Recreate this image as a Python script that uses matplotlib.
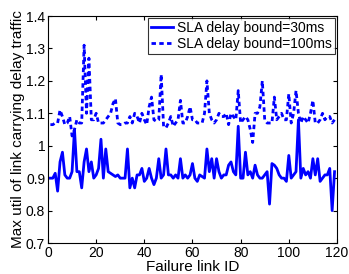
import matplotlib
matplotlib.use("Agg")
import matplotlib.pyplot as plt
import numpy as np

plt.rcParams['font.family'] = ['Liberation Sans', 'DejaVu Sans']

link_ids = list(range(1, 120))
util_30ms = [0.90, 0.90, 0.915, 0.86, 0.95, 0.98, 0.91, 0.90, 0.90, 0.92,
             1.05, 0.92, 0.92, 0.87, 0.95, 0.99, 0.92, 0.95, 0.90, 0.91,
             0.93, 1.02, 0.90, 0.99, 0.92, 0.915, 0.91, 0.905, 0.91, 0.90,
             0.90, 0.90, 0.99, 0.87, 0.90, 0.87, 0.91, 0.91, 0.93, 0.89,
             0.90, 0.93, 0.90, 0.88, 0.90, 0.96, 0.90, 0.91, 0.99, 0.91,
             0.91, 0.90, 0.91, 0.90, 0.96, 0.90, 0.91, 0.90, 0.91, 0.945,
             0.90, 0.89, 0.91, 0.905, 0.90, 0.99, 0.92, 0.96, 0.90, 0.96,
             0.92, 0.90, 0.91, 0.91, 0.94, 0.95, 0.92, 0.91, 1.06, 0.90,
             0.90, 0.98, 0.91, 0.92, 0.90, 0.94, 0.91, 0.90, 0.90, 0.91,
             0.92, 0.82, 0.945, 0.94, 0.93, 0.91, 0.90, 0.90, 0.89, 0.97,
             0.90, 0.91, 0.92, 1.08, 0.90, 0.93, 0.91, 0.92, 0.90, 0.96,
             0.91, 0.96, 0.89, 0.90, 0.91, 0.91, 0.93, 0.80, 0.92]
util_100ms = [1.065, 1.065, 1.07, 1.07, 1.11, 1.09, 1.065, 1.07, 1.09, 1.03,
              1.05, 1.08, 1.07, 1.07, 1.31, 1.10, 1.27, 1.08, 1.08, 1.10,
              1.07, 1.07, 1.07, 1.08, 1.09, 1.10, 1.13, 1.145, 1.07, 1.065,
              1.065, 1.07, 1.07, 1.09, 1.07, 1.10, 1.09, 1.07, 1.10, 1.08,
              1.065, 1.12, 1.15, 1.08, 1.075, 1.08, 1.22, 1.06, 1.055, 1.07,
              1.09, 1.06, 1.07, 1.08, 1.14, 1.07, 1.07, 1.09, 1.12, 1.08,
              1.08, 1.07, 1.07, 1.07, 1.10, 1.20, 1.10, 1.08, 1.07, 1.08,
              1.10, 1.09, 1.09, 1.10, 1.065, 1.10, 1.09, 1.08, 1.17, 1.07,
              1.08, 1.09, 1.08, 1.05, 1.01, 1.10, 1.10, 1.12, 1.20, 1.08,
              1.07, 1.07, 1.07, 1.15, 1.08, 1.09, 1.10, 1.08, 1.08, 1.16,
              1.07, 1.10, 1.17, 1.10, 1.07, 1.09, 1.08, 1.07, 1.10, 1.14,
              1.07, 1.07, 1.08, 1.10, 1.08, 1.09, 1.09, 1.07, 1.08]
labels = ['SLA delay bound=30ms', 'SLA delay bound=100ms']
xticks = [0, 20, 40, 60, 80, 100, 120]
yticks = [0.7, 0.8, 0.9, 1.0, 1.1, 1.2, 1.3, 1.4]
yticklabels = ['0.7', '0.8', '0.9', '1', '1.1', '1.2', '1.3', '1.4']

fig = plt.figure(figsize=(3.49, 2.74), dpi=100)
ax = fig.add_axes([0.1375, 0.1131, 0.828, 0.8285])
ax.plot(link_ids, util_30ms, color='#0000ff', lw=2.0, label=labels[0])
ax.plot(link_ids, util_100ms, color='#0000ff', lw=2.0, linestyle=(0, (1.6, 1.2)), label=labels[1])
ax.set_xlim(0, 120)
ax.set_ylim(0.7, 1.4)
ax.set_xticks(xticks)
ax.set_yticks(yticks)
ax.set_yticklabels(yticklabels)
ax.tick_params(direction='in', length=3, labelsize=10, top=True, right=True, pad=2)
ax.set_xlabel('Failure link ID', fontsize=11, labelpad=0)
ax.set_ylabel('Max util of link carrying delay traffic', fontsize=11, labelpad=1)
for s in ax.spines.values():
    s.set_linewidth(0.8)
leg = ax.legend(loc='upper right', fontsize=10, frameon=True, fancybox=False,
                edgecolor='black', handlelength=1.6, handletextpad=0.3,
                borderpad=0.2, labelspacing=0.15, borderaxespad=0.15)
leg.get_frame().set_linewidth(0.8)
fig.savefig('out.png', dpi=100)
